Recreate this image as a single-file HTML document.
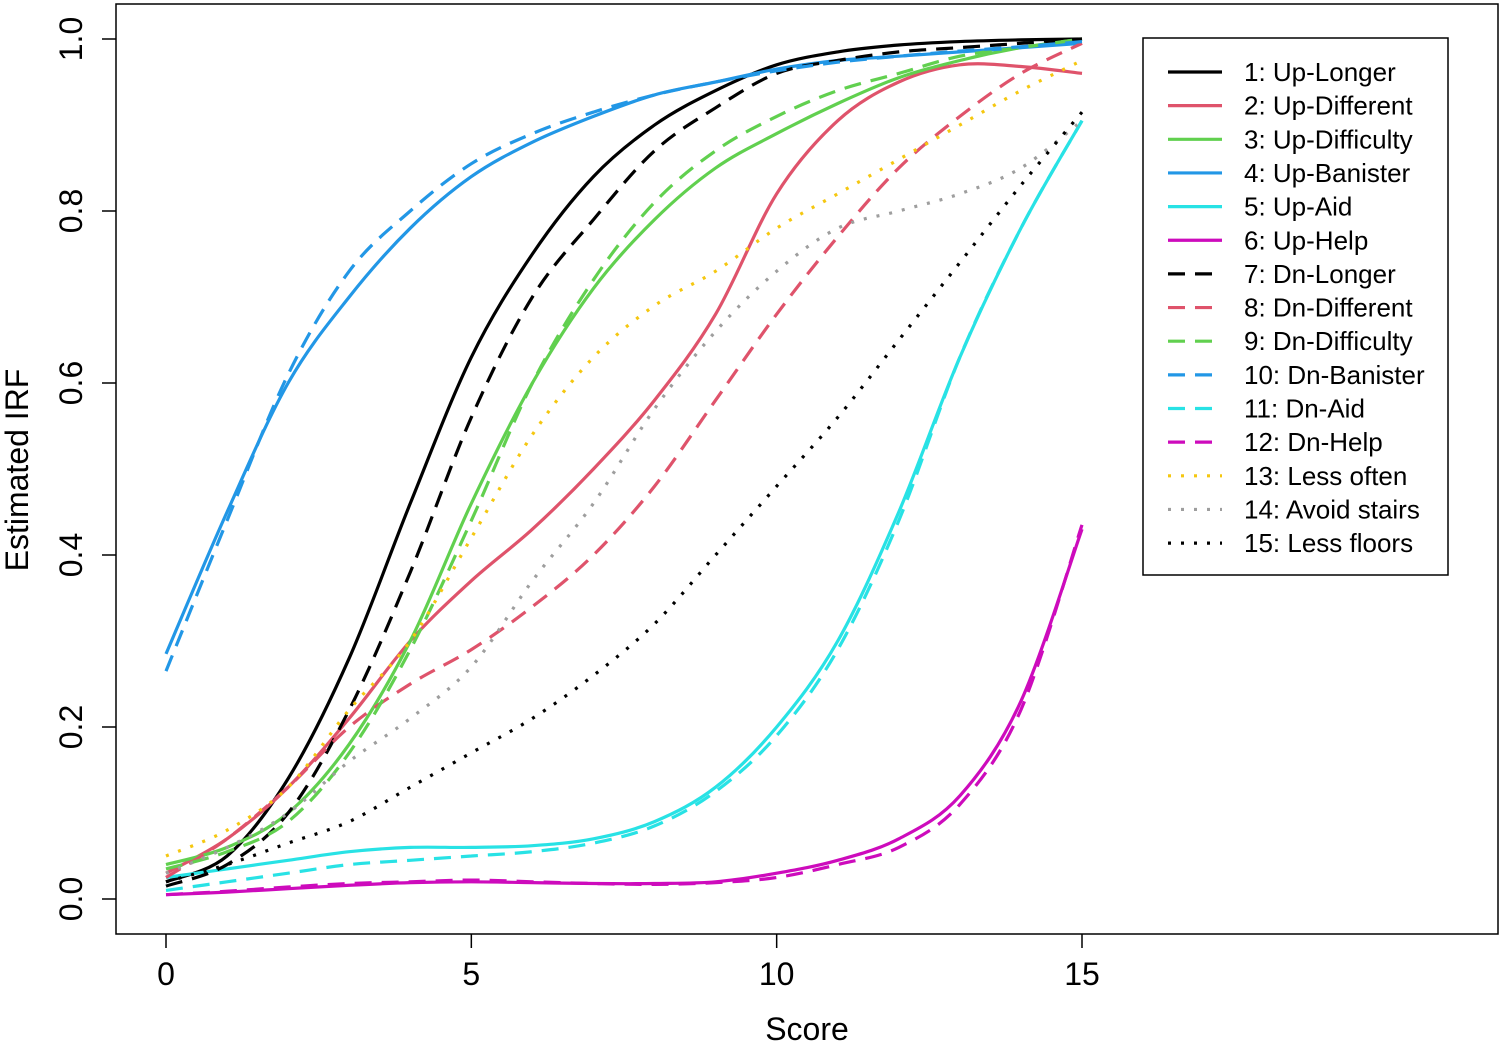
<!DOCTYPE html>
<html><head><meta charset="utf-8"><style>
body{margin:0;background:#fff}
svg{display:block;font-family:"Liberation Sans",Arial,sans-serif}
</style></head><body>
<svg id="chart" width="1502" height="1045">
<rect x="116" y="4" width="1382" height="930" fill="none" stroke="#000" stroke-width="1.5"/>
<g id="axes"></g>
<g id="lines"></g>
<g id="legend"></g>
<text x="807" y="1040" font-size="32" text-anchor="middle">Score</text>
<text transform="translate(28,470) rotate(-90)" font-size="32" text-anchor="middle">Estimated IRF</text>
</svg>
<script>
const xTicks=[0,5,10,15];
const yTicks=[0,0.2,0.4,0.6,0.8,1.0];
const yTickLabels=["0.0","0.2","0.4","0.6","0.8","1.0"];
const seriesNames=["1: Up-Longer","2: Up-Different","3: Up-Difficulty","4: Up-Banister","5: Up-Aid","6: Up-Help","7: Dn-Longer","8: Dn-Different","9: Dn-Difficulty","10: Dn-Banister","11: Dn-Aid","12: Dn-Help","13: Less often","14: Avoid stairs","15: Less floors"];
const scores=[0,1,2,3,4,5,6,7,8,9,10,11,12,13,14,15];
const upLonger=[0.02,0.05,0.14,0.28,0.46,0.63,0.75,0.84,0.90,0.94,0.97,0.985,0.993,0.997,0.999,1.0];
const upDifferent=[0.03,0.07,0.13,0.21,0.30,0.37,0.43,0.50,0.58,0.68,0.82,0.905,0.95,0.97,0.968,0.96];
const upDifficulty=[0.04,0.06,0.10,0.18,0.30,0.46,0.60,0.71,0.79,0.85,0.89,0.925,0.955,0.975,0.99,1.0];
const upBanister=[0.285,0.45,0.60,0.70,0.78,0.84,0.88,0.91,0.935,0.95,0.965,0.975,0.98,0.985,0.99,0.995];
const upAid=[0.025,0.035,0.045,0.055,0.06,0.06,0.062,0.07,0.09,0.13,0.20,0.30,0.45,0.63,0.78,0.905];
const upHelp=[0.005,0.008,0.012,0.016,0.019,0.02,0.019,0.018,0.018,0.02,0.03,0.045,0.07,0.12,0.23,0.43];
const dnLonger=[0.015,0.04,0.10,0.22,0.38,0.56,0.70,0.79,0.87,0.92,0.96,0.975,0.985,0.99,0.995,1.0];
const dnDifferent=[0.025,0.07,0.13,0.20,0.25,0.29,0.34,0.40,0.48,0.58,0.68,0.77,0.85,0.91,0.96,0.995];
const dnDifficulty=[0.035,0.055,0.09,0.17,0.29,0.44,0.60,0.72,0.81,0.87,0.91,0.94,0.96,0.98,0.99,1.0];
const dnBanister=[0.265,0.44,0.61,0.73,0.80,0.855,0.89,0.915,0.935,0.95,0.963,0.973,0.98,0.986,0.991,0.997];
const dnAid=[0.01,0.02,0.03,0.04,0.045,0.05,0.055,0.065,0.085,0.125,0.19,0.29,0.44,0.63,0.78,0.905];
const dnHelp=[0.005,0.009,0.014,0.018,0.02,0.022,0.02,0.018,0.017,0.019,0.025,0.04,0.06,0.11,0.22,0.435];
const lessOften=[0.05,0.08,0.13,0.22,0.30,0.42,0.54,0.63,0.69,0.73,0.78,0.82,0.86,0.90,0.94,0.975];
const avoidStairs=[0.03,0.06,0.10,0.16,0.21,0.27,0.37,0.46,0.57,0.66,0.73,0.78,0.80,0.82,0.85,0.905];
const lessFloors=[0.02,0.04,0.065,0.09,0.13,0.17,0.21,0.26,0.32,0.40,0.48,0.56,0.65,0.74,0.83,0.915];

const NS="http://www.w3.org/2000/svg";
const xs=v=>166+v*(1082-166)/15;
const ys=v=>899-v*860;
function mk(tag,attrs,parent){const e=document.createElementNS(NS,tag);for(const k in attrs)e.setAttribute(k,attrs[k]);parent.appendChild(e);return e;}
const axes=document.getElementById('axes');
xTicks.forEach((t)=>{
  const l=mk('line',{x1:xs(t),x2:xs(t),y1:934,y2:948,stroke:'#000','stroke-width':1.5},axes);
  
  
  const tx=mk('text',{x:xs(t),y:985,'font-size':32,'text-anchor':'middle'},axes);
  tx.textContent=t;
  
  
});
yTicks.forEach((t,i)=>{
  const l=mk('line',{x1:102,x2:116,y1:ys(t),y2:ys(t),stroke:'#000','stroke-width':1.5},axes);
  
  
  const tx=mk('text',{transform:`translate(82,${ys(t)}) rotate(-90)`,'font-size':32,'text-anchor':'middle'},axes);
  tx.textContent=yTickLabels[i];
  
  
});
const C={black:'#000',red:'#DF536B',green:'#61D04F',blue:'#2297E6',cyan:'#28E2E5',mag:'#CD0BBC',yel:'#F5C710',gray:'#9E9E9E'};
const DASH='17 10', DOT='3 10';
const series=[
 [upLonger,C.black,null],[upDifferent,C.red,null],[upDifficulty,C.green,null],[upBanister,C.blue,null],[upAid,C.cyan,null],[upHelp,C.mag,null],
 [dnLonger,C.black,DASH],[dnDifferent,C.red,DASH],[dnDifficulty,C.green,DASH],[dnBanister,C.blue,DASH],[dnAid,C.cyan,DASH],[dnHelp,C.mag,DASH],
 [lessOften,C.yel,DOT],[avoidStairs,C.gray,DOT],[lessFloors,C.black,DOT]];
function pathFor(vals){
  const p=vals.map((v,i)=>[xs(scores[i]),ys(v)]);
  let d=`M${p[0][0]},${p[0][1]}`;
  for(let i=0;i<p.length-1;i++){
    const p0=p[Math.max(0,i-1)],p1=p[i],p2=p[i+1],p3=p[Math.min(p.length-1,i+2)];
    const c1=[p1[0]+(p2[0]-p0[0])/6,p1[1]+(p2[1]-p0[1])/6];
    const c2=[p2[0]-(p3[0]-p1[0])/6,p2[1]-(p3[1]-p1[1])/6];
    d+=` C${c1[0]},${c1[1]} ${c2[0]},${c2[1]} ${p2[0]},${p2[1]}`;
  }
  return d;
}
const lines=document.getElementById('lines');
series.forEach((s,i)=>{
  const a={d:pathFor(s[0]),fill:'none',stroke:s[1],'stroke-width':3.2};
  if(s[2])a['stroke-dasharray']=s[2];
  const e=mk('path',a,lines);
  
  
});
const lg=document.getElementById('legend');
const box=mk('rect',{x:1143,y:38,width:305,height:537,fill:'#fff',stroke:'#000','stroke-width':1.5},lg);


series.forEach((s,i)=>{
  const y=72+i*33.65;
  const a={x1:1168,x2:1222,y1:y,y2:y,stroke:s[1],'stroke-width':3.2};
  if(s[2])a['stroke-dasharray']=s[2];
  const l=mk('line',a,lg);
  
  
  const t=mk('text',{x:1244,y:y+9,'font-size':26},lg);
  t.textContent=seriesNames[i];
  
  
});
</script>
</body></html>
